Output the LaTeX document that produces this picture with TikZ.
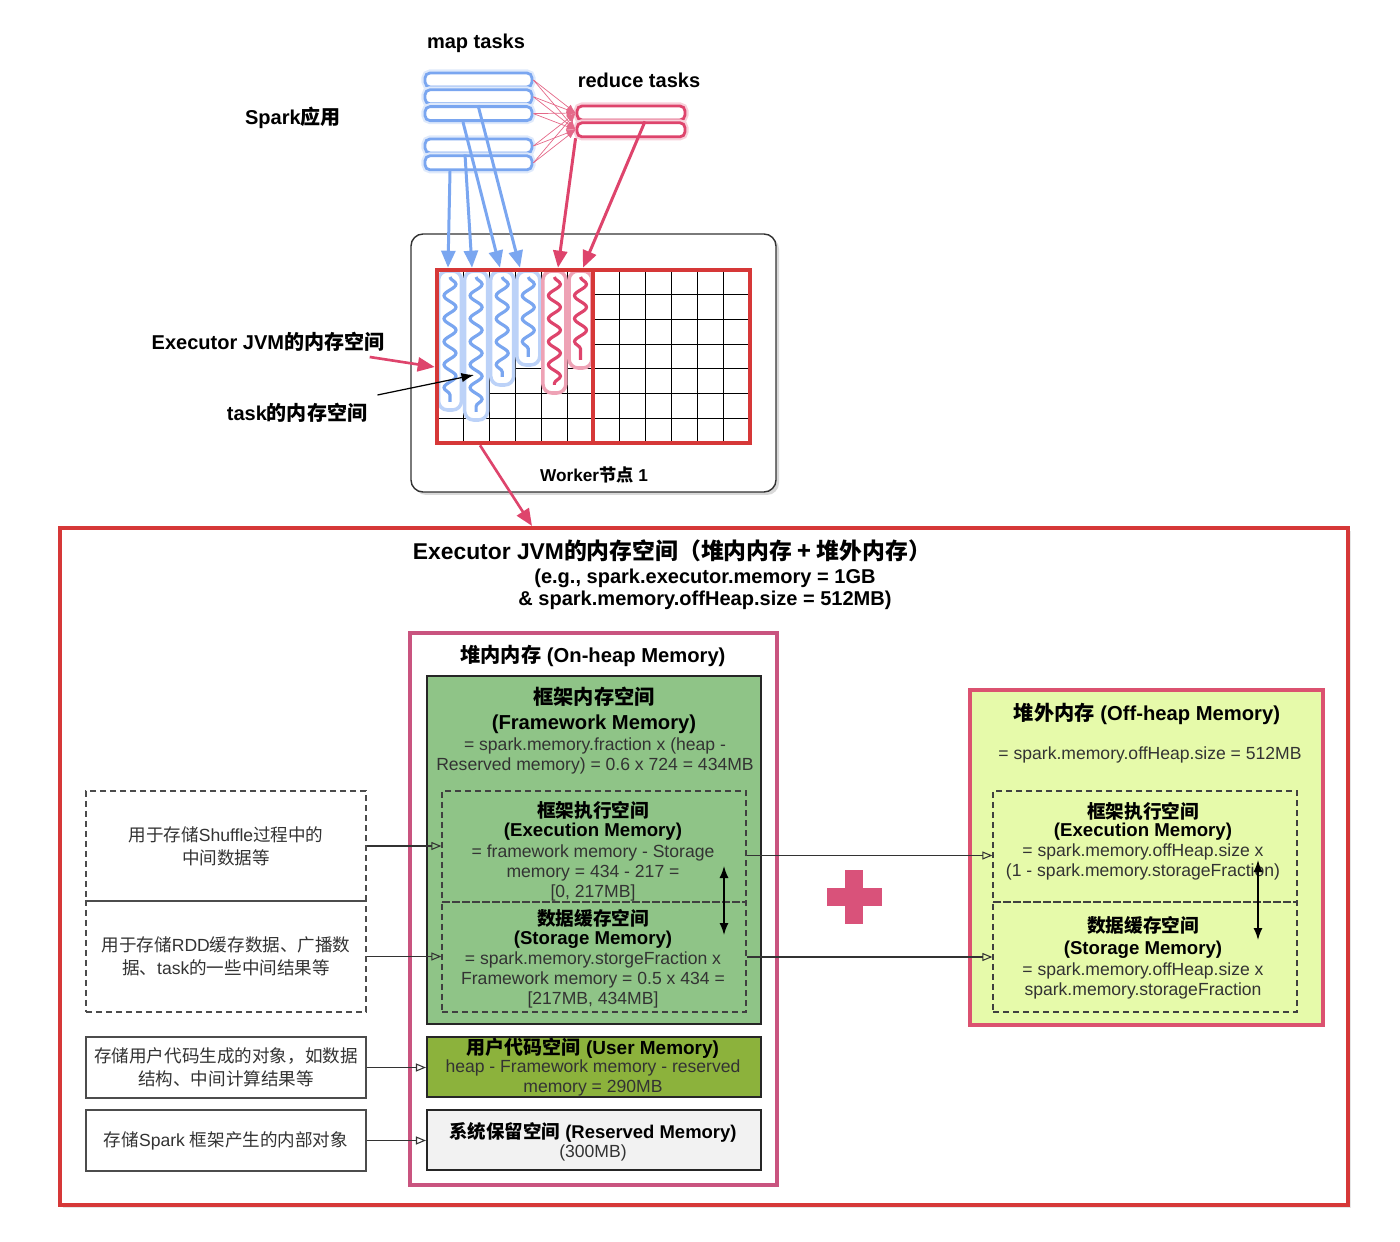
\documentclass[tikz,border=0pt]{standalone}
\usepackage{fontspec}
\setmainfont{Liberation Sans}
\newfontfamily\cjk{Noto Sans CJK SC}
\newcommand{\zh}[1]{{\cjk #1}}
\usepackage{xcolor}
\usepackage{tikz}
\usetikzlibrary{positioning, arrows.meta, calc, decorations.pathmorphing, shadows}
\definecolor{taskBlue}{RGB}{122,166,240}
\definecolor{taskRed}{RGB}{222,68,108}
\definecolor{frameRed}{RGB}{214,56,56}
\definecolor{heapPink}{RGB}{201,84,127}
\definecolor{offPink}{RGB}{219,82,112}
\definecolor{fwGreen}{RGB}{143,196,135}
\definecolor{userGreen}{RGB}{140,178,60}
\definecolor{offYellow}{RGB}{230,250,170}
\definecolor{resGray}{RGB}{242,242,242}
\definecolor{plusPink}{RGB}{217,82,122}
\tikzset{
    toplabel/.style={font=\bfseries\fontsize{11.4}{13}\selectfont, inner sep=0pt},
    memtitle/.style={font=\bfseries\fontsize{11.5}{13}\selectfont, inner sep=0pt},
    memsub/.style={font=\bfseries\fontsize{10.6}{12.5}\selectfont, inner sep=0pt},
    memtext/.style={font=\fontsize{10}{11.4}\selectfont, text=black!80, align=center, inner sep=0pt},
    maptask/.style={
        draw=taskBlue, line width=1.6pt, rounded corners=1mm, fill=white,
        minimum width=2.14cm, minimum height=0.28cm, inner sep=0pt,
        preaction={draw=taskBlue!25, line width=4pt}
    },
    redtask/.style={
        draw=taskRed, line width=1.6pt, rounded corners=1mm, fill=white,
        minimum width=2.16cm, minimum height=0.28cm, inner sep=0pt,
        preaction={draw=taskRed!25, line width=4pt}
    },
    worker/.style={
        draw=black!80, line width=0.8pt, rounded corners=2.4mm, fill=white,
        minimum width=7.3cm, minimum height=5.16cm,
        drop shadow={shadow xshift=0.6mm, shadow yshift=-0.6mm, opacity=0.3}
    },
    jvmframe/.style={draw=frameRed, line width=2.6pt, minimum height=3.46cm, inner sep=0pt},
    cellline/.style={black, line width=0.6pt},
    capsule/.style={fill=white, line width=2pt, rounded corners=1.8mm},
    wave/.style={line width=1.8pt, decorate, decoration={snake, segment length=4.6mm, amplitude=1.2mm}},
    feed/.style={-{Triangle[length=3.4mm,width=2.8mm]}, line width=1.7pt},
    shuffle/.style={-{Latex[length=1.8mm,width=1.4mm]}, line width=0.4pt, taskRed!80},
    membox/.style={draw=black!85, line width=1.2pt, minimum width=6.68cm, inner sep=0pt},
    dashbox/.style={draw=black!75, line width=0.7pt, dash pattern=on 1.2mm off 0.8mm, minimum width=6.08cm, inner sep=0pt},
    notebox/.style={
        draw=black!70, line width=0.7pt, minimum width=5.6cm, inner sep=0pt,
        align=center, font=\fontsize{10}{13}\selectfont, text=black!80
    },
    ptr/.style={-{Triangle[open,length=2mm,width=1.6mm]}, line width=0.6pt, black!80},
    swap/.style={{Latex[length=2.4mm]}-{Latex[length=2.4mm]}, line width=0.8pt}
}

\begin{document}
\begin{tikzpicture}[x=0.2mm, y=-0.2mm]
    \useasboundingbox (0,0) rectangle (1400,1242);

    % Spark application
    \node[toplabel] (mapL) at (476,43) {map tasks};
    \node[toplabel] (redL) at (639,80) {reduce tasks};
    \node[toplabel] (sparkL) at (293,118) {Spark\zh{应用}};

    \node[maptask] (map1) at (478.5,80) {};
    \node[maptask, below=0pt of map1] (map2) {};
    \node[maptask, below=0pt of map2] (map3) {};
    \node[maptask] (map4) at (478.5,146) {};
    \node[maptask, below=0pt of map4] (map5) {};
    \node[redtask] (red1) at (631,113) {};
    \node[redtask, below=0pt of red1] (red2) {};

    \foreach \m in {map1,map2,map3,map4,map5} {
        \draw[shuffle] (\m.east) -- (red1.west);
        \draw[shuffle] (\m.east) -- (red2.west);
    }

    % Worker node
    \node[worker] (worker) at (593.5,363) {};
    \node[font=\bfseries\fontsize{9.8}{12}\selectfont, inner sep=0pt] (workerL) at (594,475) {Worker\zh{节点} 1};

    \foreach \i in {1,...,11}
        \draw[cellline] ({437+\i*26.083},270) -- ({437+\i*26.083},443);
    \foreach \j in {1,...,6}
        \draw[cellline] (437,{270+\j*24.714}) -- (750,{270+\j*24.714});

    \foreach \cx/\cb/\cc in {450/410/taskBlue, 476.1/420/taskBlue, 502.2/385/taskBlue,
                             528.3/365/taskBlue, 554.4/393/taskRed, 580.5/368/taskRed} {
        \draw[capsule, draw=\cc!50] ({\cx-11.5},271) rectangle ({\cx+11.5},\cb);
        \draw[wave, \cc] (\cx,277) -- (\cx,{\cb-8});
    }

    \node[jvmframe, minimum width=3.12cm] (jvmL) at (515,356.5) {};
    \node[jvmframe, minimum width=3.14cm] (jvmR) at (671.5,356.5) {};

    \draw[feed, taskBlue] (map5.south -| 450,0) -- (jvmL.north -| 448,0);
    \draw[feed, taskBlue] (map5.north -| 465,0) -- (jvmL.north -| 472,0);
    \draw[feed, taskBlue] (map3.south -| 463,0) -- (jvmL.north -| 500,0);
    \draw[feed, taskBlue] (map3.north -| 478,0) -- (jvmL.north -| 520,0);
    \draw[feed, taskRed] (red2.south west) -- (jvmL.north -| 558,0);
    \draw[feed, taskRed] (red2.north -| 645,0) -- (jvmL.north -| 583,0);

    \node[toplabel] (execL) at (268,342) {Executor JVM\zh{的内存空间}};
    \node[toplabel] (taskL) at (297,413) {task\zh{的内存空间}};
    \coordinate (taskSpot) at (474,375);
    \draw[feed, taskRed, line width=1.5pt] ([xshift=-3mm,yshift=-1mm]execL.south east) -- (jvmL.west |- 0,367);
    \draw[-{Latex[length=2.5mm]}, line width=0.7pt] ([xshift=2mm,yshift=1.6mm]taskL.north east) -- (taskSpot);

    % Executor memory
    \node[draw=frameRed, line width=2.3pt, minimum width=25.76cm, minimum height=13.54cm,
          drop shadow={shadow xshift=0.6mm, shadow yshift=-0.6mm, opacity=0.2}, fill=white] (main) at (704,866.5) {};
    \draw[feed, taskRed, line width=1.5pt] (jvmL.south -| 480,0) -- (main.north -| 532,0);

    \node[font=\bfseries\fontsize{13}{15}\selectfont, inner sep=0pt] (mainT) at (672,551)
        {Executor JVM\zh{的内存空间（堆内内存 + 堆外内存）}};
    \node[font=\bfseries\fontsize{11.4}{12.5}\selectfont, align=center, inner sep=0pt] (mainS) at (705,589)
        {(e.g., spark.executor.memory = 1GB\\ \& spark.memory.offHeap.size = 512MB)};

    % On-heap
    \node[draw=heapPink, line width=2.3pt, minimum width=7.34cm, minimum height=11.04cm] (heap) at (593.5,909) {};
    \node[memtitle] (heapT) at (593,656) {\zh{堆内内存} (On-heap Memory)};

    \node[membox, fill=fwGreen, minimum height=6.96cm] (frame) at (594,850) {};
    \node[memtitle] (frameT) at (594,697) {\zh{框架内存空间}};
    \node[memtitle] (frameE) at (594,724) {(Framework Memory)};
    \node[memtext] (frameB) at (595,756) {= spark.memory.fraction x (heap -\\Reserved memory) = 0.6 x 724 = 434MB};

    \node[dashbox, minimum height=2.22cm] (exec) at (594,846.5) {};
    \node[dashbox, minimum height=2.2cm] (stor) at (594,957) {};
    \node[memsub] (execT) at (593,810) {\zh{框架执行空间}};
    \node[memsub] (execE) at (593,832) {(Execution Memory)};
    \node[memtext] (execB) at (593,872.5) {= framework memory - Storage\\memory = 434 - 217 =\\{[}0, 217MB{]}};
    \node[memsub] (storT) at (593,918) {\zh{数据缓存空间}};
    \node[memsub] (storE) at (593,940) {(Storage Memory)};
    \node[memtext] (storB) at (593,979.5) {= spark.memory.storgeFraction x\\Framework memory = 0.5 x 434 =\\{[}217MB, 434MB{]}};
    \coordinate (swapTop) at (724,866);
    \coordinate (swapBot) at (724,935);
    \draw[swap] (swapTop) -- (swapBot);

    \node[membox, fill=userGreen, minimum height=1.2cm] (user) at (594,1067) {};
    \node[memsub, font=\bfseries\fontsize{10.8}{12.5}\selectfont] (userT) at (593,1048) {\zh{用户代码空间} (User Memory)};
    \node[memtext] (userB) at (593,1077.5) {heap - Framework memory - reserved\\memory = 290MB};

    \node[membox, fill=resGray, minimum height=1.2cm] (resv) at (594,1140) {};
    \node[memsub, font=\bfseries\fontsize{10.5}{12.5}\selectfont] (resvT) at (593,1132) {\zh{系统保留空间} (Reserved Memory)};
    \node[memtext] (resvB) at (593,1153) {(300MB)};

    % Notes
    \node[notebox, dash pattern=on 1.2mm off 0.8mm, minimum height=2.2cm] (note1) at (226,846)
        {\zh{用于存储}Shuffle\zh{过程中的}\\\zh{中间数据等}};
    \node[notebox, dash pattern=on 1.2mm off 0.8mm, minimum height=2.22cm] (note2) at (226,956.5)
        {\zh{用于存储}RDD\zh{缓存数据、广播数}\\\zh{据、}task\zh{的一些中间结果等}};
    \node[notebox, minimum height=1.22cm] (note3) at (226,1067.5)
        {\zh{存储用户代码生成的对象，如数据}\\\zh{结构、中间计算结果等}};
    \node[notebox, minimum height=1.22cm] (note4) at (226,1140.5)
        {\zh{存储}Spark \zh{框架产生的内部对象}};
    \draw[ptr] (note1.east) -- (note1.east -| exec.west);
    \draw[ptr] (note2.east) -- (note2.east -| stor.west);
    \draw[ptr] (note3.east) -- (note3.east -| user.west);
    \draw[ptr] (note4.east) -- (note4.east -| resv.west);

    % Off-heap
    \node[draw=offPink, fill=offYellow, line width=2.3pt, minimum width=7.06cm, minimum height=6.7cm] (off) at (1146.5,857.5) {};
    \node[memtitle] (offT) at (1147,714) {\zh{堆外内存} (Off-heap Memory)};
    \node[memtext] (offB) at (1150,755) {= spark.memory.offHeap.size = 512MB};
    \node[dashbox, minimum height=2.22cm] (offExec) at (1145,846.5) {};
    \node[dashbox, minimum height=2.2cm] (offStor) at (1145,957) {};
    \node[memsub] (offExecT) at (1143,811) {\zh{框架执行空间}};
    \node[memsub] (offExecE) at (1143,832) {(Execution Memory)};
    \node[memtext] (offExecB) at (1143,862) {= spark.memory.offHeap.size x\\(1 - spark.memory.storageFraction)};
    \node[memsub] (offStorT) at (1143,925) {\zh{数据缓存空间}};
    \node[memsub] (offStorE) at (1143,950) {(Storage Memory)};
    \node[memtext] (offStorB) at (1143,981) {= spark.memory.offHeap.size x\\spark.memory.storageFraction};
    \coordinate (offSwapTop) at (1258,860);
    \coordinate (offSwapBot) at (1258,940);
    \draw[swap] (offSwapTop) -- (offSwapBot);

    \draw[ptr] ([yshift=-1.8mm]exec.east) -- ([yshift=-1.8mm]offExec.west);
    \draw[ptr] (stor.east) -- (offStor.west);

    % Plus
    \fill[plusPink] (827,888) rectangle (882,906);
    \fill[plusPink] (845,870) rectangle (863,924);
\end{tikzpicture}
\end{document}
